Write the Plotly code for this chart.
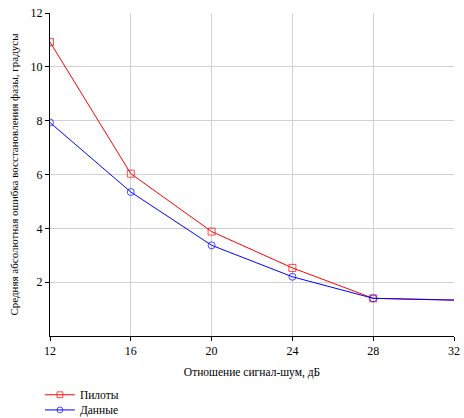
import plotly.graph_objects as go

snr = [12, 16, 20, 24, 28, 32]
pilots = [10.92, 6.03, 3.88, 2.53, 1.40, 1.34]
data = [7.93, 5.35, 3.37, 2.20, 1.40, 1.33]
x_ticks = [12, 16, 20, 24, 28, 32]
y_ticks = [2, 4, 6, 8, 10, 12]

sizes = [7, 7, 7, 7, 7, 0]
SERIF = "Liberation Serif"

fig = go.Figure()
fig.add_trace(go.Scatter(x=snr, y=pilots, name="Пилоты", mode="lines+markers",
                         line=dict(color="#ff0000", width=1), legend="legend",
                         marker=dict(symbol="square-open", size=sizes, color="#ff0000", line=dict(width=1))))
fig.add_trace(go.Scatter(x=snr, y=data, name="Данные", mode="lines+markers",
                         line=dict(color="#0000ff", width=1), legend="legend2",
                         marker=dict(symbol="circle-open", size=sizes, color="#0000ff", line=dict(width=1))))

font = dict(family=SERIF, size=12, color="black")
leg = dict(x=-0.025, xanchor="left", yanchor="top", orientation="v",
           font=dict(family=SERIF, size=11.5), itemwidth=30, bgcolor="rgba(0,0,0,0)")
fig.update_layout(
    width=464, height=418,
    margin=dict(l=50, r=10, t=13, b=82, autoexpand=False),
    paper_bgcolor="white", plot_bgcolor="white",
    font=font,
    showlegend=True,
    legend=dict(leg, y=-0.137),
    legend2=dict(leg, y=-0.184),
)
fig.update_xaxes(range=[12, 32], tickvals=x_ticks, ticktext=[str(v) for v in x_ticks],
                 showgrid=True, gridcolor="#d0d0d0", gridwidth=1,
                 showline=True, linecolor="black", linewidth=1,
                 ticks="outside", ticklen=4, tickcolor="black",
                 title=dict(text="Отношение сигнал-шум, дБ", font=dict(family=SERIF, size=11.5), standoff=10),
                 zeroline=False, automargin=False)
fig.update_yaxes(range=[0, 12], tickvals=y_ticks, ticktext=[str(v) for v in y_ticks],
                 showgrid=True, gridcolor="#d0d0d0", gridwidth=1,
                 showline=True, linecolor="black", linewidth=1,
                 ticks="outside", ticklen=4, tickcolor="black",
                 title=dict(text="Средняя абсолютная ошибка восстановления фазы, градусы", font=dict(family=SERIF, size=11), standoff=9),
                 zeroline=False, automargin=False)
fig.write_html("out.html")
